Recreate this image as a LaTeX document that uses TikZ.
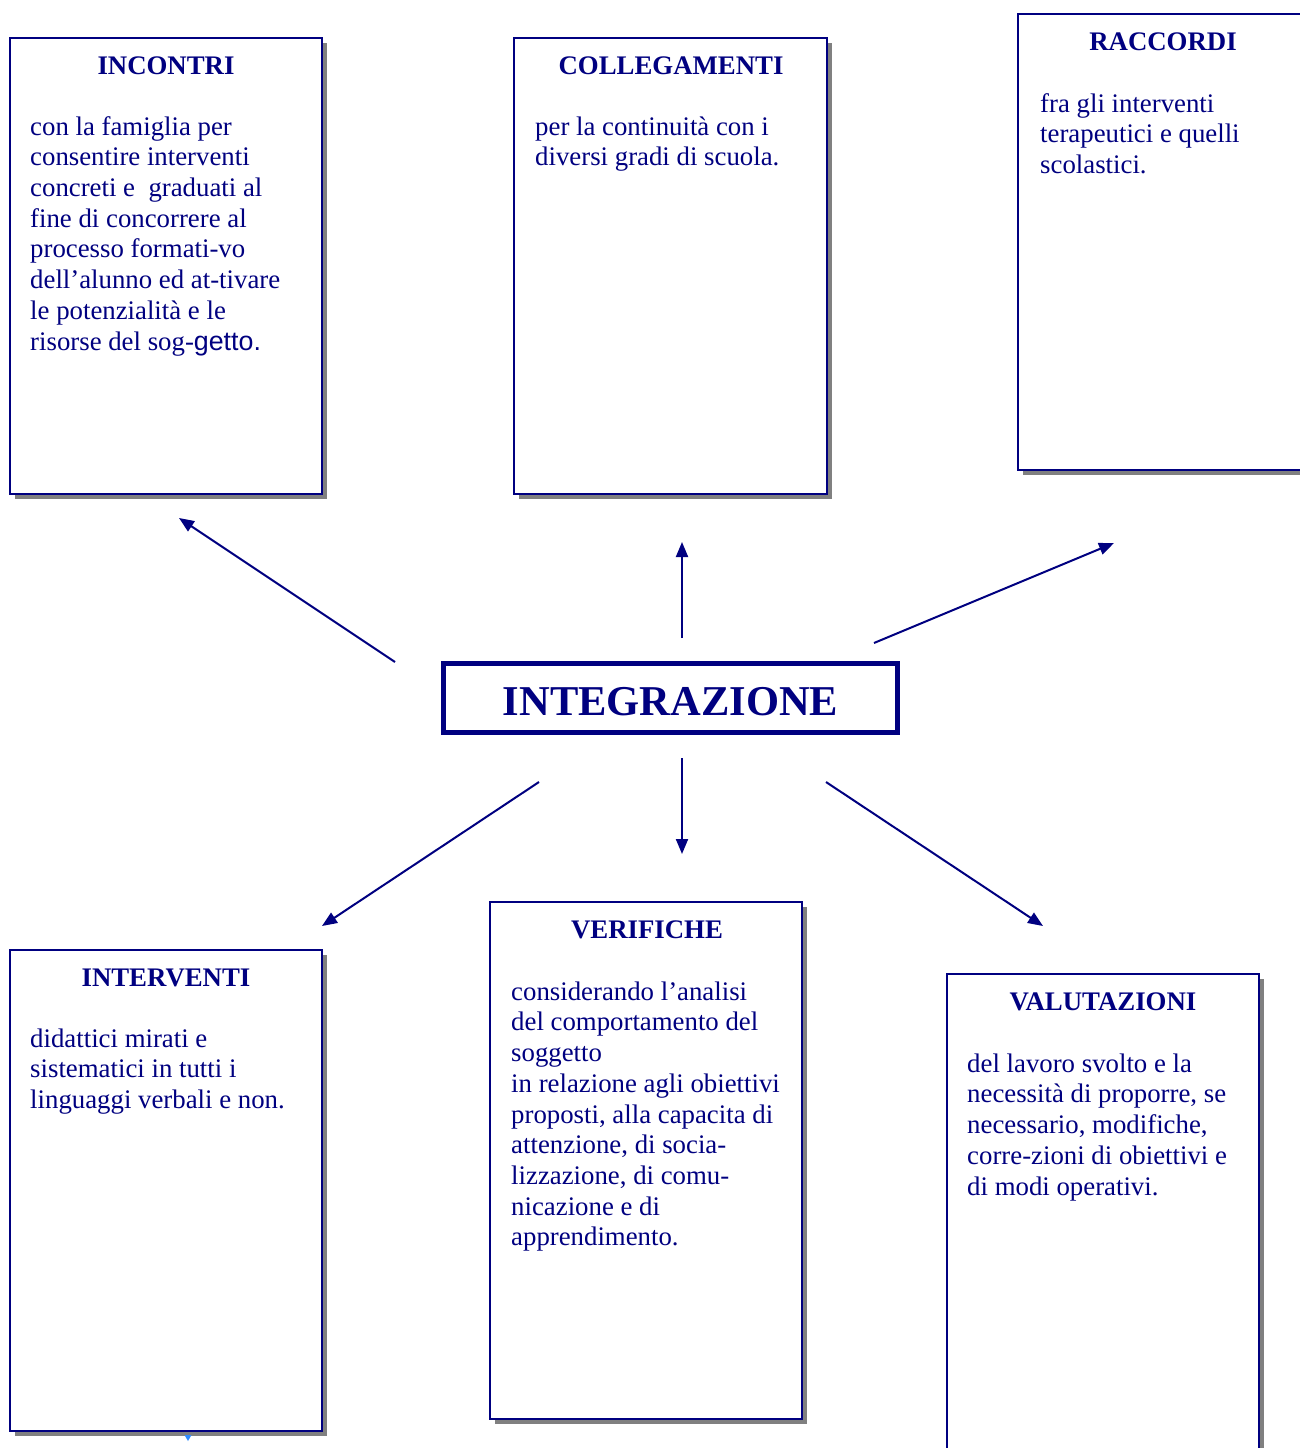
\documentclass[tikz,border=0pt]{standalone}
\usepackage{fontspec}
\setmainfont{Liberation Serif}
\newfontfamily\arialfont{Liberation Sans}
\usetikzlibrary{arrows.meta,shadows}
\definecolor{navy}{HTML}{000080}
\definecolor{shadowgray}{HTML}{808080}
\definecolor{tipblue}{HTML}{2F8CFF}
\begin{document}
\begin{tikzpicture}[x=1pt,y=-1pt,
  card/.style={draw=navy, line width=2pt, fill=white, inner sep=0pt,
    minimum width=312pt, rectangle,
    drop shadow={shadow xshift=5pt, shadow yshift=-5pt, fill=shadowgray, opacity=1}},
  cardtitle/.style={anchor=base, inner sep=0pt, text=navy,
    font=\fontsize{26.8}{30.7}\selectfont\bfseries},
  cardbody/.style={anchor=north west, inner sep=0pt, text=navy, align=left,
    font=\fontsize{26.8}{30.7}\selectfont},
  link/.style={draw=navy, line width=2pt, -{Triangle[length=15pt,width=12pt]}}
]
\useasboundingbox (0,0) rectangle (1299,1448);
\fill[white] (0,0) rectangle (1299,1448);

% boxes
\node[card, minimum height=456pt] (incontri) at (166,266) {};
\node[card, minimum width=313pt, minimum height=456pt] (collegamenti) at (670.5,266) {};
\node[card, minimum height=456pt] (raccordi) at (1174,242) {};
\node[card, minimum height=481pt] (interventi) at (166,1190.5) {};
\node[card, minimum height=517pt] (verifiche) at (646,1160.5) {};
\node[card, minimum height=517pt] (valutazioni) at (1103,1232.5) {};
\node[draw=navy, line width=5pt, fill=white, inner sep=0pt,
      minimum width=454pt, minimum height=69pt] (integrazione) at (670.5,698) {};
\node[anchor=base, inner sep=0pt, text=navy,
      font=\fontsize{42.5}{48}\selectfont\bfseries] (integrazioneT) at (670.5,715) {INTEGRAZIONE};

% titles
\node[cardtitle] (incontriH) at (166,74) {INCONTRI};
\node[cardtitle] (collegamentiH) at (671,74) {COLLEGAMENTI};
\node[cardtitle] (raccordiH) at (1163,50) {RACCORDI};
\node[cardtitle] (interventiH) at (166,986) {INTERVENTI};
\node[cardtitle] (verificheH) at (647,938) {VERIFICHE};
\node[cardtitle] (valutazioniH) at (1103,1010) {VALUTAZIONI};

% bodies
\node[cardbody] (incontriB) at (30,113.5) {\strut con la famiglia per\\
consentire interventi\\
concreti e\ \ graduati al\\
fine di concorrere al\\
processo formati-vo\\
dell’alunno ed at-tivare\\
le potenzialità e le\\
risorse del sog-{\arialfont getto.}};
\node[cardbody] (collegamentiB) at (535,113.5) {\strut per la continuità con i\\
diversi gradi di scuola.};
\node[cardbody] (raccordiB) at (1040,90.5) {\strut fra gli interventi\\
terapeutici e quelli\\
scolastici.};
\node[cardbody] (interventiB) at (30,1025.5) {\strut didattici mirati e\\
sistematici in tutti i\\
linguaggi verbali e non.};
\node[cardbody] (verificheB) at (511,978.5) {\strut considerando l’analisi\\
del comportamento del\\
soggetto\\
in relazione agli obiettivi\\
proposti, alla capacita di\\
attenzione, di socia-\\
lizzazione, di comu-\\
nicazione e di\\
apprendimento.};
\node[cardbody] (valutazioniB) at (967,1050.5) {\strut del lavoro svolto e la\\
necessità di proporre, se\\
necessario, modifiche,\\
corre-zioni di obiettivi e\\
di modi operativi.};

% connector end points
\coordinate (a1s) at (395,662);  \coordinate (a1e) at (179,518);
\coordinate (a2s) at (682,638);  \coordinate (a2e) at (682,542);
\coordinate (a3s) at (874,643);  \coordinate (a3e) at (1114,543);
\coordinate (a4s) at (539,782);  \coordinate (a4e) at (322,926);
\coordinate (a5s) at (682,758);  \coordinate (a5e) at (682,854);
\coordinate (a6s) at (826,782);  \coordinate (a6e) at (1043,926);

\draw[link] (a1s) -- (a1e);
\draw[link] (a2s) -- (a2e);
\draw[link] (a3s) -- (a3e);
\draw[link] (a4s) -- (a4e);
\draw[link] (a5s) -- (a5e);
\draw[link] (a6s) -- (a6e);

% small stray tip below INTERVENTI
\fill[tipblue] (184.5,1435) -- (191.5,1435) -- (188,1441) -- cycle;
\end{tikzpicture}
\end{document}
